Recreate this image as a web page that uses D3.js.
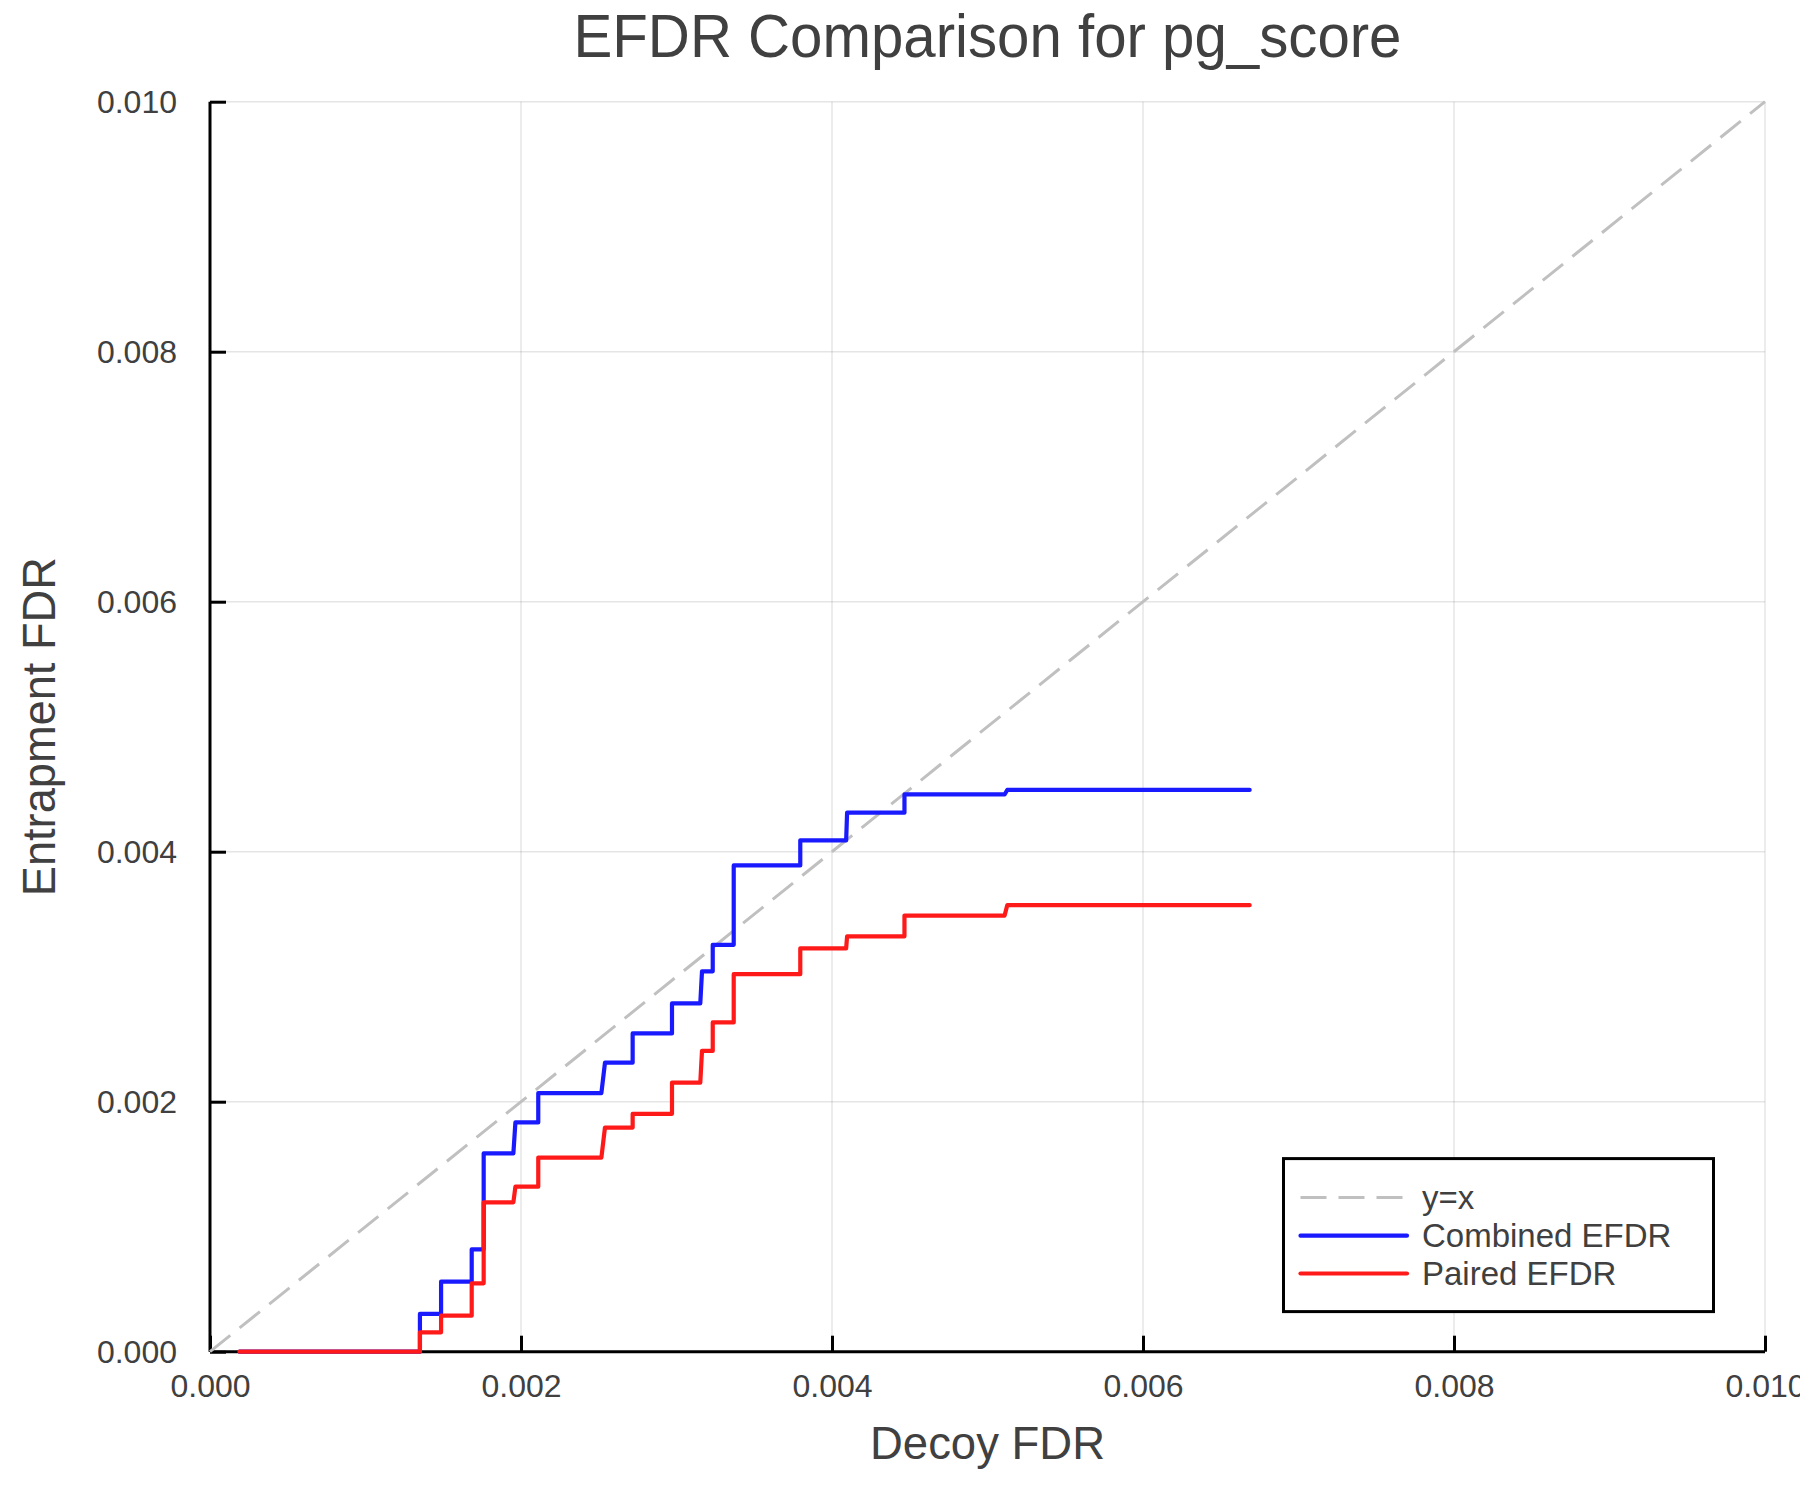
<!DOCTYPE html>
<html>
<head>
<meta charset="utf-8">
<script src="https://cdn.jsdelivr.net/npm/d3@7"></script>
<style>
  html, body { margin: 0; padding: 0; background: #fff; }
  svg { display: block; }
  text { font-family: "Liberation Sans", Arial, Helvetica, sans-serif; fill: #404040; }
</style>
</head>
<body>
<svg id="chart" width="1800" height="1500"></svg>
<script>
// ---- data ----
const titleText = "EFDR Comparison for pg_score";
const xLabel = "Decoy FDR";
const yLabel = "Entrapment FDR";
const xTicks = [0, 0.002, 0.004, 0.006, 0.008, 0.010];
const yTicks = [0, 0.002, 0.004, 0.006, 0.008, 0.010];
const legendLabels = ["y=x", "Combined EFDR", "Paired EFDR"];

const decoyFdr = [
  0.00019, 0.00135, 0.00135, 0.001486, 0.001486, 0.001683, 0.001683, 0.00176, 0.00176,
  0.001951, 0.001964, 0.002111, 0.002111, 0.002517, 0.00254, 0.002718, 0.002718,
  0.002971, 0.002971, 0.003153, 0.003164, 0.003233, 0.003233, 0.003368, 0.003368,
  0.003796, 0.003796, 0.004091, 0.004097, 0.004466, 0.004466, 0.00511, 0.005127, 0.006686
];
const combinedEfdr = [
  0, 0, 0.000302, 0.000302, 0.00056, 0.00056, 0.000819, 0.000819, 0.001587,
  0.001587, 0.001834, 0.001834, 0.002069, 0.002069, 0.002312, 0.002312, 0.002546,
  0.002546, 0.002786, 0.002786, 0.003043, 0.003043, 0.003255, 0.003255, 0.00389,
  0.00389, 0.004091, 0.004091, 0.004312, 0.004312, 0.004458, 0.004458, 0.004494, 0.004494
];
const pairedEfdr = [
  0, 0, 0.000155, 0.000155, 0.000288, 0.000288, 0.000547, 0.000547, 0.001195,
  0.001195, 0.00132, 0.00132, 0.001553, 0.001553, 0.001793, 0.001793, 0.001903,
  0.001903, 0.002152, 0.002152, 0.002406, 0.002406, 0.002634, 0.002634, 0.00302,
  0.00302, 0.003227, 0.003227, 0.003323, 0.003323, 0.003489, 0.003489, 0.003572, 0.003572
];
const diagonal = [0, 0.010];

// ---- layout ----
const plot = { left: 210, right: 1765, top: 101.7, bottom: 1351.7 };
const svg = d3.select("#chart");
svg.append("rect").attr("width", 1800).attr("height", 1500).attr("fill", "#fff");

const x = d3.scaleLinear().domain([0, 0.010]).range([plot.left, plot.right]);
const y = d3.scaleLinear().domain([0, 0.010]).range([plot.bottom, plot.top]);
const fmt = d3.format(".3f");

// grid
const grid = svg.append("g");
grid.selectAll("line.gx").data(xTicks.slice(1)).join("line")
  .attr("x1", d => x(d)).attr("x2", d => x(d))
  .attr("y1", plot.top).attr("y2", plot.bottom)
  .attr("stroke", "#000").attr("stroke-opacity", 0.1).attr("stroke-width", 1.5);
grid.selectAll("line.gy").data(yTicks.slice(1)).join("line")
  .attr("y1", d => y(d)).attr("y2", d => y(d))
  .attr("x1", plot.left).attr("x2", plot.right)
  .attr("stroke", "#000").attr("stroke-opacity", 0.1).attr("stroke-width", 1.5);

// axes
const xAxis = d3.axisBottom(x).tickValues(xTicks).tickFormat(fmt).tickSize(-16).tickPadding(0);
const yAxis = d3.axisLeft(y).tickValues(yTicks).tickFormat(fmt).tickSize(-16).tickPadding(0);

const gx = svg.append("g").attr("transform", `translate(0,${plot.bottom})`).call(xAxis);
const gy = svg.append("g").attr("transform", `translate(${plot.left},0)`).call(yAxis);
[gx, gy].forEach(g => {
  g.select(".domain").attr("stroke", "#000").attr("stroke-width", 3);
  g.selectAll(".tick line").attr("stroke", "#000").attr("stroke-width", 3);
  g.selectAll(".tick text").attr("fill", "#404040")
    .style("font-family", '"Liberation Sans", Arial, sans-serif').style("font-size", "32px");
});
gx.select(".domain").attr("d", `M${plot.left},0H${plot.right}`);
gy.select(".domain").attr("d", `M0,${plot.bottom}V${plot.top}`);
gx.selectAll(".tick text").attr("y", 45).attr("dy", 0);
gy.selectAll(".tick text").attr("x", -33).attr("dy", "0.35em");

// series
const line = d3.line().x(d => x(d[0])).y(d => y(d[1]));
const diagPts = diagonal.map(v => [v, v]);
const combPts = decoyFdr.map((d, i) => [d, combinedEfdr[i]]);
const pairPts = decoyFdr.map((d, i) => [d, pairedEfdr[i]]);

svg.append("path").datum(diagPts).attr("d", line)
  .attr("fill", "none").attr("stroke", "#c0c0c0").attr("stroke-width", 3)
  .attr("stroke-dasharray", "26 12");
svg.append("path").datum(combPts).attr("d", line)
  .attr("fill", "none").attr("stroke", "#1a1aff").attr("stroke-width", 4.2)
  .attr("stroke-linejoin", "round").attr("stroke-linecap", "round");
svg.append("path").datum(pairPts).attr("d", line)
  .attr("fill", "none").attr("stroke", "#ff1a1a").attr("stroke-width", 4.2)
  .attr("stroke-linejoin", "round").attr("stroke-linecap", "round");

// labels
svg.append("text").attr("x", (plot.left + plot.right) / 2).attr("y", 57)
  .attr("text-anchor", "middle").style("font-size", "61px")
  .attr("textLength", 828).attr("lengthAdjust", "spacingAndGlyphs").text(titleText);
svg.append("text").attr("x", (plot.left + plot.right) / 2).attr("y", 1459)
  .attr("text-anchor", "middle").style("font-size", "46px")
  .attr("textLength", 235).attr("lengthAdjust", "spacingAndGlyphs").text(xLabel);
svg.append("text").attr("transform", `translate(55,${(plot.top + plot.bottom) / 2}) rotate(-90)`)
  .attr("text-anchor", "middle").style("font-size", "46px")
  .attr("textLength", 339).attr("lengthAdjust", "spacingAndGlyphs").text(yLabel);

// legend
const lg = svg.append("g");
lg.append("rect").attr("x", 1283.5).attr("y", 1158.6).attr("width", 430).attr("height", 153)
  .attr("fill", "#fff").attr("stroke", "#000").attr("stroke-width", 3);
const legendStyles = [
  { color: "#c0c0c0", dash: "26 12", w: 3 },
  { color: "#1a1aff", dash: null, w: 4.2 },
  { color: "#ff1a1a", dash: null, w: 4.2 }
];
const rowY = [1197.5, 1235.7, 1273.5];
legendLabels.forEach((lab, i) => {
  lg.append("line").attr("x1", 1300.5).attr("x2", 1407).attr("y1", rowY[i]).attr("y2", rowY[i])
    .attr("stroke", legendStyles[i].color).attr("stroke-width", legendStyles[i].w)
    .attr("stroke-dasharray", legendStyles[i].dash)
    .attr("stroke-linecap", legendStyles[i].dash ? "butt" : "round");
  lg.append("text").attr("x", 1422).attr("y", rowY[i]).attr("dy", "0.35em")
    .style("font-size", "33px").text(lab);
});
</script>
</body>
</html>
